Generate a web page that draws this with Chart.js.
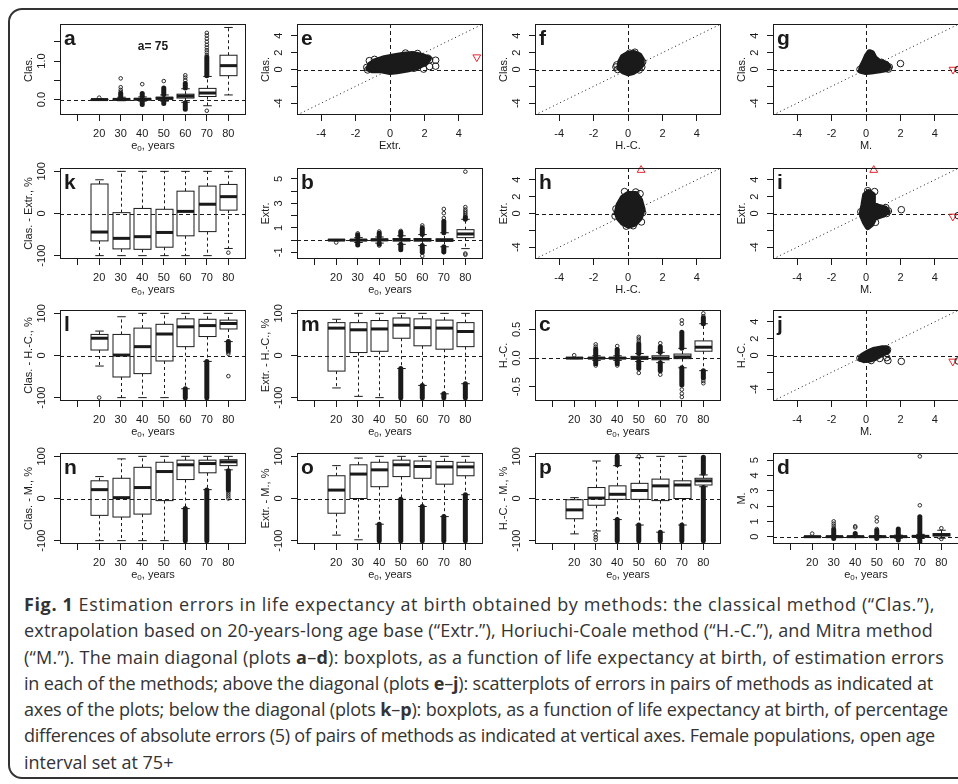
<!DOCTYPE html>
<html>
<head>
<meta charset="utf-8">
<script src="https://cdn.jsdelivr.net/npm/chart.js@4.4.0/dist/chart.umd.min.js"></script>
<style>
  html, body { margin: 0; padding: 0; background: #fff; width: 958px; height: 784px; overflow: hidden; }
  #frame { position: absolute; left: 8px; top: 8px; width: 1000px; height: 771px; border: 2px solid #333; border-radius: 14px; box-sizing: border-box; }
  canvas { position: absolute; }
  #caption { position: absolute; left: 24px; top: 591px; font-family: "Open Sans"; font-size: 18px; line-height: 26.3px; color: #333; }
  #caption div { white-space: nowrap; }
</style>
</head>
<body>
<div id="frame"></div>
<div id="caption">
  <div><span><b>Fig. 1</b> Estimation errors in life expectancy at birth obtained by methods: the classical method (“Clas.”),</span></div>
  <div><span>extrapolation based on 20-years-long age base (“Extr.”), Horiuchi-Coale method (“H.-C.”), and Mitra method</span></div>
  <div><span>(“M.”). The main diagonal (plots <b>a</b>–<b>d</b>): boxplots, as a function of life expectancy at birth, of estimation errors</span></div>
  <div><span>in each of the methods; above the diagonal (plots <b>e</b>–<b>j</b>): scatterplots of errors in pairs of methods as indicated at</span></div>
  <div><span>axes of the plots; below the diagonal (plots <b>k</b>–<b>p</b>): boxplots, as a function of life expectancy at birth, of percentage</span></div>
  <div><span>differences of absolute errors (5) of pairs of methods as indicated at vertical axes. Female populations, open age</span></div>
  <div><span>interval set at 75+</span></div>
</div>
<script>
// --- data ---------------------------------------------------------------
const years = [20, 30, 40, 50, 60, 70, 80]
const yearTicks = [10, 20, 30, 40, 50, 60, 70, 80]
const yearLabels = ['', '20', '30', '40', '50', '60', '70', '80']
const pctTicks = [-100, 0, 100]
const pctLabels = ['-100', '0', '100']
const errTicks = [-4, -2, 0, 2, 4]
const errXLabels = ['-4', '-2', '0', '2', '4']
const errYLabels = ['-4', '', '0', '2', '4']

// boxes: [lower whisker, q1, median, q3, upper whisker] for each e0 group
const boxA = [[-0.02, -0.005, 0, 0.005, 0.02], [-0.03, -0.005, 0.005, 0.02, 0.06], [-0.04, -0.005, 0.01, 0.025, 0.07],
  [-0.04, 0.01, 0.035, 0.06, 0.12], [-0.07, 0.04, 0.09, 0.14, 0.28], [-0.16, 0.08, 0.17, 0.29, 0.6], [0.12, 0.62, 0.88, 1.15, 1.87]]
const outA = [[20, 0.05], [30, 0.55], [30, 0.32], [30, 0.25], [30, 0.2], [40, 0.4], [50, 0.48], [60, 0.63], [60, 0.57], [60, 0.5],
  [70, -0.29], [70, 1.15], [70, 1.22], [70, 1.28], [70, 1.35], [70, 1.42], [70, 1.5], [70, 1.58], [70, 1.66], [70, 1.73]]
const bandA = [[30, 0.07, 0.16], [40, 0.08, 0.16], [40, -0.05, -0.13], [50, 0.13, 0.3], [50, -0.05, -0.1], [60, 0.3, 0.42],
  [60, -0.08, -0.25], [70, 0.62, 1.1]]

const boxB = [[-0.05, -0.02, 0, 0.02, 0.05], [-0.2, -0.05, 0, 0.05, 0.2], [-0.25, -0.05, 0.02, 0.08, 0.25],
  [-0.35, -0.08, 0.03, 0.12, 0.35], [-0.45, -0.08, 0.02, 0.12, 0.45], [-0.55, -0.1, 0, 0.1, 0.6], [-0.7, 0.2, 0.5, 0.85, 1.7]]
const outB = [[20, -0.2], [30, 0.55], [30, 0.45], [40, 0.7], [40, -0.45], [50, 0.75], [60, 1.2], [60, 1.05], [60, -1.3],
  [70, 1.8], [70, 2.2], [70, 2.55], [70, -1.0], [80, 1.9], [80, 2.05], [80, 2.2], [80, 2.35], [80, 2.5], [80, 2.7], [80, 5.6],
  [80, -1.1], [80, -1.2]]
const bandB = [[30, 0.2, 0.4], [30, -0.2, -0.4], [40, 0.25, 0.55], [40, -0.25, -0.35], [50, 0.35, 0.65], [50, -0.35, -0.8],
  [60, 0.45, 0.95], [60, -0.45, -1.0], [70, 0.6, 1.55], [70, -0.55, -0.95], [80, 1.7, 1.85]]

const boxC = [[-0.01, -0.005, 0, 0.005, 0.01], [-0.04, -0.01, 0, 0.01, 0.04], [-0.04, -0.01, 0, 0.01, 0.04],
  [-0.06, -0.02, 0, 0.03, 0.08], [-0.08, -0.03, 0, 0.04, 0.1], [-0.17, -0.01, 0.02, 0.07, 0.17], [-0.22, 0.12, 0.19, 0.3, 0.6]]
const outC = [[20, 0.05], [30, 0.2], [30, 0.24], [30, -0.13], [40, 0.21], [40, -0.13], [50, 0.3], [50, 0.34], [50, 0.37],
  [50, -0.26], [60, 0.26], [60, -0.29], [70, 0.6], [70, 0.66], [70, -0.55], [70, -0.62], [70, -0.68], [80, 0.73], [80, 0.78],
  [80, -0.4], [80, -0.44]]
const bandC = [[30, 0.04, 0.16], [30, -0.04, -0.1], [40, 0.04, 0.15], [40, -0.04, -0.1], [50, 0.08, 0.25], [50, -0.06, -0.18],
  [60, 0.1, 0.2], [60, -0.08, -0.22], [70, 0.17, 0.45], [70, -0.17, -0.47], [80, 0.6, 0.7], [80, -0.22, -0.35]]

const boxD = [[-0.02, -0.01, 0, 0.01, 0.02], [-0.05, -0.01, 0, 0.02, 0.06], [-0.05, -0.01, 0, 0.02, 0.06],
  [-0.06, -0.01, 0, 0.02, 0.07], [-0.1, -0.02, 0, 0.03, 0.1], [-0.12, -0.01, 0.02, 0.05, 0.15], [-0.1, 0.05, 0.12, 0.2, 0.42]]
const outD = [[20, 0.2], [30, 0.55], [30, 0.7], [30, 0.85], [30, 1.0], [40, 0.6], [40, 0.68], [50, 0.5], [50, 1.0], [50, 1.25],
  [70, 2.05], [70, 5.25], [80, 0.55], [80, -0.15]]
const bandD = [[30, 0.06, 0.45], [30, -0.05, -0.12], [40, 0.06, 0.2], [50, 0.07, 0.4], [50, -0.06, -0.12], [60, 0.1, 0.5],
  [60, -0.1, -0.22], [70, 0.15, 1.3], [70, -0.12, -0.35]]

const boxK = [[-100, -65, -44, 70, 80], [-100, -84, -59, 2, 100], [-100, -85, -55, 12, 100], [-100, -80, -45, 10, 100],
  [-100, -53, 5, 53, 100], [-100, -43, 22, 65, 100], [-83, 8, 40, 69, 100]]
const outK = [[80, -93]]
const bandK = []

const boxL = [[-25, 13, 41, 50, 58], [-100, -51, 1, 50, 92], [-100, -43, 21, 65, 100], [-100, -13, 51, 74, 100],
  [-79, 21, 68, 87, 100], [-14, 45, 71, 86, 100], [33, 63, 76, 84, 100]]
const outL = [[20, -100], [80, 8], [80, 4], [80, -49]]
const bandL = [[60, -79, -100], [70, -14, -100], [80, 33, 12]]

const boxM = [[-77, -37, 65, 78, 86], [-97, 7, 61, 78, 100], [-100, 10, 63, 83, 100], [-31, 41, 72, 89, 100],
  [-71, 23, 66, 87, 100], [-91, 15, 65, 84, 100], [-67, 21, 57, 78, 100]]
const outM = []
const bandM = [[50, -31, -100], [60, -71, -100], [70, -91, -100], [80, -67, -100]]

const boxN = [[-100, -40, 21, 42, 52], [-100, -44, 2, 48, 94], [-100, -37, 26, 74, 100], [-100, -5, 64, 86, 100],
  [-24, 45, 80, 91, 100], [21, 61, 83, 91, 100], [68, 78, 87, 92, 100]]
const outN = [[80, 15], [80, 10], [80, 5], [80, 0]]
const bandN = [[60, -24, -100], [70, 20, -100], [80, 66, 20]]

const boxO = [[-87, -35, 20, 54, 78], [-98, 0, 58, 80, 96], [-61, 28, 68, 86, 100], [-2, 52, 80, 91, 100],
  [-19, 48, 76, 89, 100], [-43, 34, 75, 88, 100], [9, 54, 75, 86, 100]]
const outO = []
const bandO = [[40, -61, -100], [50, -2, -100], [60, -19, -100], [70, -43, -100], [80, 9, -100]]

const boxP = [[-84, -48, -27, -3, 2], [-77, -16, 1, 26, 89], [-50, -2, 10, 30, 78], [-63, -2, 19, 36, 97],
  [-80, -5, 30, 46, 100], [-63, 0, 32, 42, 100], [28, 32, 42, 48, 56]]
const outP = [[30, -85], [30, -92], [30, -98], [50, 100]]
const bandP = [[40, 80, 100], [40, -50, -100], [50, -63, -100], [60, -80, -100], [70, -63, -100], [80, 60, 98], [80, 26, -100]]

// scatter clouds: outline of the dense part, single edge points, off-scale markers [x, y, rotation]
const hullE = [[-1.25, 0.1], [-1.15, 0.6], [-0.85, 1.0], [-0.4, 1.3], [0.2, 1.55], [0.8, 1.75], [1.3, 1.85], [1.8, 1.65],
  [2.25, 1.3], [2.1, 0.85], [1.6, 0.3], [1.0, 0.0], [0.4, -0.2], [0.0, -0.3], [-0.5, -0.1], [-1.0, -0.1]]
const ptsE = [[-1.35, 0.25], [-1.2, 1.05], [-0.9, 1.2], [2.3, 1.15], [2.65, 1.1], [2.2, 1.35], [1.95, 0.05], [2.3, 0.35],
  [2.65, 0.4], [1.4, 0.15], [1.6, 1.9], [0.9, 1.95], [-1.3, -0.05]]
const flagE = [[5.04, 1.47, 180]]

const hullF = [[-0.5, 0.2], [-0.45, 0.9], [-0.3, 1.5], [0.0, 1.85], [0.35, 1.95], [0.65, 1.7], [0.8, 1.2], [0.8, 0.6],
  [0.6, 0.1], [0.3, -0.3], [0.0, -0.45], [-0.3, -0.2]]
const ptsF = [[-0.7, 0.3], [-0.6, 0.0], [-0.65, 0.55], [0.8, 0.3], [0.85, 0.9], [0.4, 2.05], [0.1, 1.95], [0.65, -0.05]]
const flagF = []

const hullG = [[-0.3, -0.15], [-0.25, 0.3], [-0.1, 0.9], [0.05, 1.6], [0.2, 2.05], [0.35, 1.95], [0.5, 1.35], [0.75, 0.95],
  [1.1, 0.7], [1.3, 0.35], [1.2, 0.05], [0.8, -0.1], [0.3, -0.25], [0.0, -0.3]]
const ptsG = [[0.9, 0.85], [1.15, 0.6], [1.35, 0.3], [1.3, 0.05], [0.6, 0.75], [2.0, 0.7], [-0.35, 0.0], [5.35, 0.0]]
const flagG = [[5.05, 0.0, 180]]

const hullH = [[-0.65, 0.1], [-0.55, 1.0], [-0.3, 1.9], [0.0, 2.3], [0.45, 2.3], [0.7, 1.6], [0.85, 0.5], [0.7, -0.5],
  [0.4, -1.2], [0.05, -1.45], [-0.3, -1.1], [-0.55, -0.5]]
const ptsH = [[-0.2, 2.6], [0.45, 2.55], [0.7, 2.35], [-0.7, 0.55], [-0.75, -0.3], [0.78, -1.0], [-0.1, -1.5], [0.85, 0.1],
  [0.3, -1.45]]
const flagH = [[0.76, 5.15, 0]]

const hullI = [[-0.25, 0.0], [-0.15, 1.0], [-0.05, 2.2], [0.15, 2.55], [0.4, 2.2], [0.4, 1.1], [0.7, 0.8], [1.1, 0.6],
  [1.25, 0.25], [1.0, -0.15], [0.5, -0.5], [0.3, -1.3], [0.1, -1.6], [-0.05, -1.1], [-0.2, -0.4]]
const ptsI = [[0.1, 2.7], [0.5, 2.6], [1.15, 0.7], [1.3, 0.3], [0.55, -1.05], [-0.3, 0.2], [1.2, 0.0], [2.05, 0.45], [5.35, -0.25]]
const flagI = [[5.04, -0.35, 180], [0.45, 5.15, 0]]

const hullJ = [[-0.3, -0.4], [-0.2, 0.0], [0.1, 0.35], [0.5, 0.7], [0.9, 0.85], [1.2, 0.85], [1.25, 0.5], [0.9, 0.15],
  [0.5, -0.3], [0.2, -0.5], [-0.1, -0.55]]
const ptsJ = [[1.25, 0.7], [1.2, -0.25], [1.27, -0.6], [0.3, -0.6], [0.8, -0.35], [-0.35, -0.3], [2.05, -0.7], [5.35, -0.65]]
const flagJ = [[5.04, -0.7, 180]]

// --- layout -------------------------------------------------------------
const colLeft = [60, 297, 535, 773]
const rowTop = [24, 168, 310, 453]
const boxW = 186, boxH = 91
const ink = '#1a1a1a'
const FONT = '"Liberation Sans", Arial, sans-serif'
Chart.defaults.font.family = FONT

// right end (px) of each caption line, so the ragged edge matches
const captionEnds = [935, 933, 944, 933, 948, 935]
document.querySelectorAll('#caption span').forEach((s, i) => {
  if (i >= captionEnds.length) return
  const w = s.getBoundingClientRect().width
  const n = s.textContent.length
  s.parentNode.style.letterSpacing = ((captionEnds[i] - 24 - w) / n).toFixed(3) + 'px'
})

const boxPanels = [
  { letter: 'a', row: 0, col: 0, title: 'Clas.', min: -0.4, max: 1.96, yt: [0, 0.5, 1, 1.5], yl: ['0.0', '', '1.0', ''], boxes: boxA, outs: outA, bands: bandA, note: 'a= 75' },
  { letter: 'k', row: 1, col: 0, title: 'Clas. - Extr., %', min: -108, max: 108, yt: pctTicks, yl: pctLabels, boxes: boxK, outs: outK, bands: bandK },
  { letter: 'b', row: 1, col: 1, title: 'Extr.', min: -1.55, max: 5.9, yt: [-1, 0, 1, 2, 3, 4, 5], yl: ['-1', '', '1', '', '3', '', '5'], boxes: boxB, outs: outB, bands: bandB },
  { letter: 'l', row: 2, col: 0, title: 'Clas. - H.-C., %', min: -108, max: 108, yt: pctTicks, yl: pctLabels, boxes: boxL, outs: outL, bands: bandL },
  { letter: 'm', row: 2, col: 1, title: 'Extr. - H.-C., %', min: -108, max: 108, yt: pctTicks, yl: pctLabels, boxes: boxM, outs: outM, bands: bandM },
  { letter: 'c', row: 2, col: 2, title: 'H.-C.', min: -0.75, max: 0.84, yt: [-0.5, 0, 0.5], yl: ['-0.5', '0.0', '0.5'], boxes: boxC, outs: outC, bands: bandC },
  { letter: 'n', row: 3, col: 0, title: 'Clas. - M., %', min: -108, max: 108, yt: pctTicks, yl: pctLabels, boxes: boxN, outs: outN, bands: bandN },
  { letter: 'o', row: 3, col: 1, title: 'Extr. - M., %', min: -108, max: 108, yt: pctTicks, yl: pctLabels, boxes: boxO, outs: outO, bands: bandO },
  { letter: 'p', row: 3, col: 2, title: 'H.-C. - M., %', min: -108, max: 108, yt: pctTicks, yl: pctLabels, boxes: boxP, outs: outP, bands: bandP },
  { letter: 'd', row: 3, col: 3, title: 'M.', min: -0.48, max: 5.47, yt: [0, 1, 2, 3, 4, 5], yl: ['0', '1', '2', '3', '4', '5'], boxes: boxD, outs: outD, bands: bandD }
]
const scatterPanels = [
  { letter: 'e', row: 0, col: 1, title: 'Clas.', xTitle: 'Extr.', hull: hullE, pts: ptsE, flags: flagE },
  { letter: 'f', row: 0, col: 2, title: 'Clas.', xTitle: 'H.-C.', hull: hullF, pts: ptsF, flags: flagF },
  { letter: 'g', row: 0, col: 3, title: 'Clas.', xTitle: 'M.', hull: hullG, pts: ptsG, flags: flagG },
  { letter: 'h', row: 1, col: 2, title: 'Extr.', xTitle: 'H.-C.', hull: hullH, pts: ptsH, flags: flagH },
  { letter: 'i', row: 1, col: 3, title: 'Extr.', xTitle: 'M.', hull: hullI, pts: ptsI, flags: flagI },
  { letter: 'j', row: 2, col: 3, title: 'H.-C.', xTitle: 'M.', hull: hullJ, pts: ptsJ, flags: flagJ }
]

function seg(ctx, x1, y1, x2, y2) {
  ctx.beginPath(); ctx.moveTo(x1, y1); ctx.lineTo(x2, y2); ctx.stroke()
}

function panelPlugin(cfg) {
  return {
    id: 'panel_' + cfg.letter,
    beforeDatasetsDraw(chart) {
      const { ctx, chartArea: a, scales: { x, y } } = chart
      ctx.save()
      ctx.beginPath(); ctx.rect(a.left, a.top, a.right - a.left, a.bottom - a.top); ctx.clip()
      ctx.strokeStyle = ink; ctx.lineWidth = 1
      const y0 = Math.round(y.getPixelForValue(0)) + 0.5
      if (cfg.hull) {
        const x0 = Math.round(x.getPixelForValue(0)) + 0.5
        ctx.setLineDash([1, 3])
        seg(ctx, x.getPixelForValue(x.min), y.getPixelForValue(x.min), x.getPixelForValue(x.max), y.getPixelForValue(x.max))
        ctx.setLineDash([4, 3])
        seg(ctx, x0, a.top, x0, a.bottom)
        seg(ctx, a.left, y0, a.right, y0)
        ctx.setLineDash([])
        ctx.beginPath()
        cfg.hull.forEach(([u, v], i) => {
          const px = x.getPixelForValue(u), py = y.getPixelForValue(v)
          if (i) ctx.lineTo(px, py); else ctx.moveTo(px, py)
        })
        ctx.closePath()
        ctx.fillStyle = ink; ctx.fill()
        ctx.lineWidth = 6; ctx.lineJoin = 'round'; ctx.stroke()
      } else {
        const hw = 8.5
        cfg.boxes.forEach((b, i) => {
          const cx = Math.round(x.getPixelForValue(years[i])) + 0.5
          const [lo, q1, md, q3, hi] = b.map(v => y.getPixelForValue(v))
          ctx.lineWidth = 1
          ctx.setLineDash([3, 3])
          seg(ctx, cx, q3, cx, hi); seg(ctx, cx, q1, cx, lo)
          ctx.setLineDash([])
          seg(ctx, cx - hw / 2, hi, cx + hw / 2, hi); seg(ctx, cx - hw / 2, lo, cx + hw / 2, lo)
          ctx.fillStyle = '#fff'
          ctx.fillRect(cx - hw, q3, 2 * hw, q1 - q3)
          ctx.strokeRect(cx - hw, q3, 2 * hw, q1 - q3)
          ctx.lineWidth = 3
          seg(ctx, cx - hw, md, cx + hw, md)
        })
        ctx.lineWidth = 5; ctx.lineCap = 'round'
        cfg.bands.forEach(([yr, v1, v2]) => {
          const cx = x.getPixelForValue(yr)
          seg(ctx, cx, y.getPixelForValue(v1), cx, y.getPixelForValue(v2))
        })
        ctx.lineCap = 'butt'; ctx.lineWidth = 1
        ctx.setLineDash([4, 3])
        seg(ctx, a.left, y0, a.right, y0)
      }
      ctx.restore()
    },
    afterDraw(chart) {
      const { ctx, chartArea: a, scales: { y } } = chart
      ctx.save()
      ctx.strokeStyle = ink; ctx.lineWidth = 1
      ctx.strokeRect(Math.round(a.left) + 0.5, Math.round(a.top) + 0.5, Math.round(a.right - a.left) - 1, Math.round(a.bottom - a.top) - 1)
      ctx.fillStyle = ink
      ctx.textAlign = 'center'; ctx.textBaseline = 'middle'
      ctx.font = '11px ' + FONT
      const yt = cfg.yt || errTicks, yl = cfg.yl || errYLabels
      yt.forEach((v, i) => {
        if (!yl[i]) return
        ctx.save(); ctx.translate(a.left - 18, y.getPixelForValue(v)); ctx.rotate(-Math.PI / 2)
        ctx.fillText(yl[i], 0, 0); ctx.restore()
      })
      ctx.save(); ctx.translate(a.left - 31, (a.top + a.bottom) / 2); ctx.rotate(-Math.PI / 2)
      ctx.fillText(cfg.title, 0, 0); ctx.restore()
      const cx = (a.left + a.right) / 2, ty = a.bottom + 31
      if (cfg.xTitle) {
        ctx.fillText(cfg.xTitle, cx, ty)
      } else {
        const w1 = ctx.measureText('e').width, w3 = ctx.measureText(', years').width
        ctx.font = '8px ' + FONT
        const w2 = ctx.measureText('0').width
        let sx = cx - (w1 + w2 + w3) / 2
        ctx.textAlign = 'left'
        ctx.fillText('0', sx + w1, ty + 3)
        ctx.font = '11px ' + FONT
        ctx.fillText('e', sx, ty)
        ctx.fillText(', years', sx + w1 + w2, ty)
      }
      ctx.textAlign = 'left'; ctx.textBaseline = 'alphabetic'
      ctx.font = 'bold 21px ' + FONT
      ctx.fillText(cfg.letter, a.left + 4, a.top + 20.5)
      if (cfg.note) {
        ctx.font = 'bold 12px ' + FONT
        ctx.textAlign = 'center'; ctx.textBaseline = 'middle'
        ctx.fillText(cfg.note, cx, a.top + 23)
      }
      ctx.restore()
    }
  }
}

function makePanel(cfg, isBox) {
  const W = 60 + boxW + 6, H = 6 + boxH + 44
  const canvas = document.createElement('canvas')
  canvas.width = W; canvas.height = H
  canvas.style.left = (colLeft[cfg.col] - 60) + 'px'
  canvas.style.top = (rowTop[cfg.row] - 6) + 'px'
  canvas.style.width = W + 'px'; canvas.style.height = H + 'px'
  document.body.appendChild(canvas)

  const xt = isBox ? yearTicks : errTicks
  const xl = isBox ? yearLabels : errXLabels
  const yt = isBox ? cfg.yt : errTicks
  let datasets
  if (isBox) {
    datasets = [{
      data: cfg.outs.map(([u, v]) => ({ x: u, y: v })),
      pointRadius: 1.8, pointBorderWidth: 0.9, pointBorderColor: ink, pointBackgroundColor: 'rgba(0,0,0,0)'
    }]
  } else {
    datasets = [{
      data: cfg.pts.map(([u, v]) => ({ x: u, y: v })),
      pointRadius: 3.3, pointBorderWidth: 1, pointBorderColor: ink, pointBackgroundColor: 'rgba(0,0,0,0)'
    }, {
      data: cfg.flags.map(([u, v]) => ({ x: u, y: v })),
      pointStyle: 'triangle', pointRotation: cfg.flags.map(f => f[2]),
      pointRadius: 4.5, pointBorderWidth: 1, pointBorderColor: '#e3262e', pointBackgroundColor: 'rgba(0,0,0,0)', clip: 8
    }]
  }

  new Chart(canvas, {
    type: 'scatter',
    data: { datasets },
    options: {
      responsive: false, animation: false, devicePixelRatio: 1,
      layout: { padding: { top: 6, right: 6, left: 0, bottom: 0 } },
      plugins: { legend: { display: false }, tooltip: { enabled: false } },
      scales: {
        x: {
          type: 'linear',
          min: isBox ? 1.8 : -5.4, max: isBox ? 88.2 : 5.4,
          afterBuildTicks: s => { s.ticks = xt.map(v => ({ value: v })) },
          afterFit: s => { s.height = 44 },
          border: { display: false },
          grid: { drawOnChartArea: false, drawTicks: true, tickLength: 6, color: ink },
          ticks: { color: ink, font: { size: 11 }, padding: 6, maxRotation: 0, autoSkip: false, callback: (v, i) => xl[i] }
        },
        y: {
          type: 'linear',
          min: isBox ? cfg.min : -5.4, max: isBox ? cfg.max : 5.4,
          afterBuildTicks: s => { s.ticks = yt.map(v => ({ value: v })) },
          afterFit: s => { s.width = 60 },
          border: { display: false },
          grid: { drawOnChartArea: false, drawTicks: true, tickLength: 6, color: ink },
          ticks: { display: false }
        }
      }
    },
    plugins: [panelPlugin(cfg)]
  })
}

boxPanels.forEach(p => makePanel(p, true))
scatterPanels.forEach(p => makePanel(p, false))
</script>
</body>
</html>
